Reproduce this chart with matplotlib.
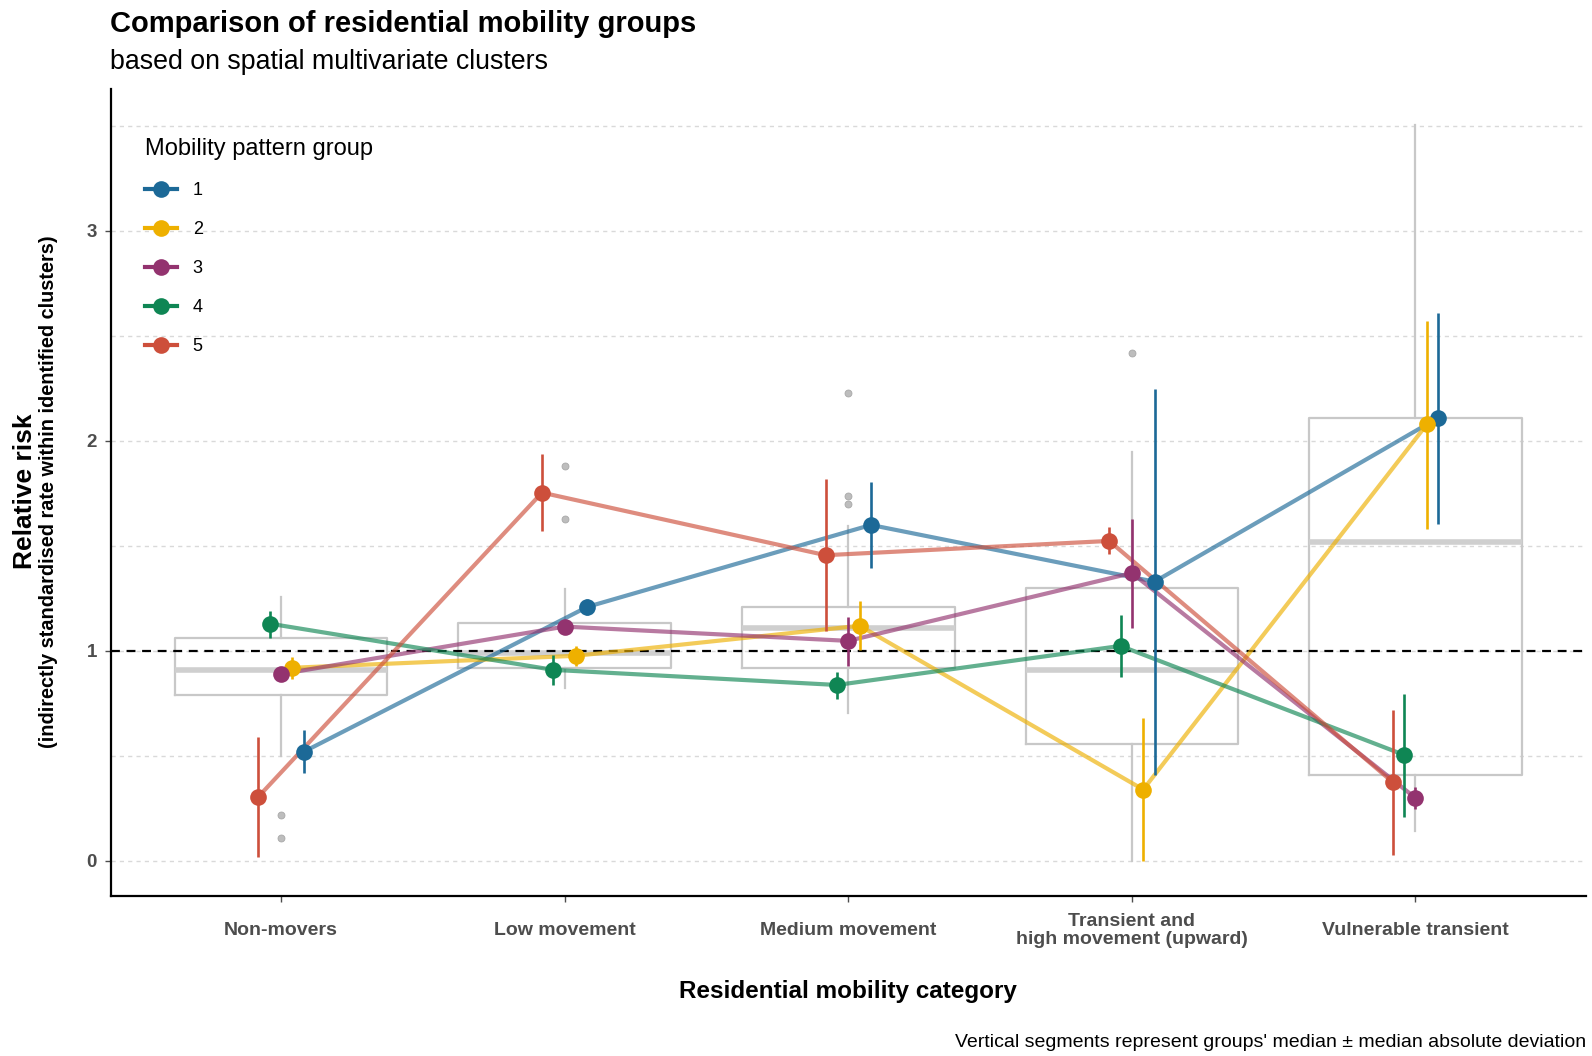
import matplotlib
matplotlib.use("Agg")
import matplotlib.pyplot as plt
from matplotlib.lines import Line2D
import numpy as np

plt.rcParams['font.family'] = ['Liberation Sans', 'DejaVu Sans']

categories = ["Non-movers", "Low movement", "Medium movement",
              "Transient and\nhigh movement (upward)", "Vulnerable transient"]
groups = ["1", "2", "3", "4", "5"]
colors = ["#1c6997", "#eeb000", "#93336f", "#0f8654", "#cd4f3b"]

# median per group and category
median = {
    "1": [0.52, 1.21, 1.60, 1.33, 2.11],
    "2": [0.92, 0.977, 1.12, 0.34, 2.079],
    "3": [0.89, 1.116, 1.048, 1.371, 0.30],
    "4": [1.13, 0.91, 0.838, 1.024, 0.505],
    "5": [0.306, 1.754, 1.456, 1.524, 0.375],
}
# median - MAD
lower = {
    "1": [0.418, 1.171, 1.393, 0.408, 1.606],
    "2": [0.867, 0.929, 1.005, 0.0, 1.583],
    "3": [0.87, 1.10, 0.93, 1.11, 0.249],
    "4": [1.063, 0.838, 0.772, 0.876, 0.21],
    "5": [0.018, 1.571, 1.097, 1.46, 0.027],
}
# median + MAD
upper = {
    "1": [0.624, 1.246, 1.803, 2.247, 2.611],
    "2": [0.97, 1.025, 1.236, 0.682, 2.573],
    "3": [0.91, 1.13, 1.162, 1.629, 0.352],
    "4": [1.19, 0.981, 0.899, 1.169, 0.797],
    "5": [0.59, 1.94, 1.818, 1.589, 0.717],
}

# boxplot summary per category
box_q1 = [0.79, 0.921, 0.921, 0.558, 0.41]
box_med = [0.91, 0.989, 1.111, 0.908, 1.519]
box_q3 = [1.06, 1.131, 1.209, 1.30, 2.108]
box_lo = [0.50, 0.822, 0.704, 0.0, 0.143]
box_hi = [1.257, 1.296, 1.596, 1.948, 3.506]
box_out = [[0.22, 0.11], [1.88, 1.629], [2.228, 1.739, 1.699], [2.42], []]

fig = plt.figure(figsize=(15.92, 10.56), dpi=100)
ax = fig.add_axes([0.0697, 0.1515, 0.9263, 0.7642])

xpos = np.arange(1, len(categories) + 1)

stats = []
for i in range(len(categories)):
    stats.append(dict(med=box_med[i], q1=box_q1[i], q3=box_q3[i],
                      whislo=box_lo[i], whishi=box_hi[i], fliers=box_out[i]))
ax.bxp(stats, positions=xpos, widths=0.75, showcaps=False, patch_artist=False,
       boxprops=dict(color="#c8c8c8", lw=1.6),
       whiskerprops=dict(color="#c8c8c8", lw=1.6),
       medianprops=dict(color="#cfcfcf", lw=4),
       flierprops=dict(marker="o", markersize=5, markerfacecolor="#bdbdbd",
                       markeredgecolor="#a8a8a8", markeredgewidth=0.6),
       zorder=1)

ax.axhline(1, color="black", lw=1.6, ls=(0, (4, 3)), zorder=2)

for k, g in enumerate(groups):
    off = (2 - k) * 0.04
    xs = xpos + off
    ax.plot(xs, median[g], color=colors[k], lw=3, alpha=0.65, zorder=3,
            solid_capstyle="butt")
for k, g in enumerate(groups):
    off = (2 - k) * 0.04
    xs = xpos + off
    ax.vlines(xs, lower[g], upper[g], color=colors[k], lw=1.9, zorder=4)
    ax.plot(xs, median[g], "o", color=colors[k], markersize=12, zorder=5,
            markeredgewidth=0)

ax.set_xlim(0.4, 5.6)
ax.set_ylim(-0.167, 3.676)
ax.set_xticks(xpos)
ax.set_xticklabels(categories, fontweight="bold", color="#4d4d4d", fontsize=14,
                   linespacing=1.05, va="center")
ax.set_yticks([0, 1, 2, 3])
ax.set_yticklabels(["0", "1", "2", "3"], fontweight="bold", color="#4d4d4d",
                   fontsize=13.5)
ax.set_yticks([0.5, 1.5, 2.5, 3.5], minor=True)
ax.tick_params(axis="both", which="major", length=4, color="#4d4d4d", width=1, pad=6)
ax.tick_params(axis="y", which="minor", length=0)
ax.tick_params(axis="x", pad=21)
ax.grid(axis="y", which="both", color="#d9d9d9", lw=1, ls=(0, (3, 3)), zorder=0)
ax.set_axisbelow(True)
for s in ["top", "right"]:
    ax.spines[s].set_visible(False)
for s in ["left", "bottom"]:
    ax.spines[s].set_linewidth(1.6)
    ax.spines[s].set_color("black")

ax.set_xlabel("Residential mobility category", fontsize=17.5, fontweight="bold",
              va="center")
ax.xaxis.set_label_coords(0.5, -0.118)

fig.text(0.0155, 0.5345, "Relative risk", rotation=90, fontsize=19,
         fontweight="bold", ha="center", va="center")
fig.text(0.0305, 0.5345, "(indirectly standardised rate within identified clusters)",
         rotation=90, fontsize=14.3, fontweight="bold", ha="center", va="center")

fig.text(0.069, 0.977, "Comparison of residential mobility groups", fontsize=21.0,
         fontweight="bold", ha="left", va="center")
fig.text(0.069, 0.941, "based on spatial multivariate clusters", fontsize=19.3,
         ha="left", va="center")
fig.text(0.9962, 0.0125, "Vertical segments represent groups' median \u00b1 median absolute deviation",
         fontsize=14, ha="right", va="center")

handles = [Line2D([0], [0], color=c, lw=3, marker="o", markersize=12,
                  markeredgewidth=0) for c in colors]
leg = ax.legend(handles, groups, title="Mobility pattern group", loc="upper left",
                bbox_to_anchor=(0.012, 0.959), frameon=False, fontsize=13,
                title_fontsize=17, handlelength=1.8, handletextpad=0.85,
                labelspacing=1.22, alignment="left", borderaxespad=0.5)

fig.savefig("out.png", dpi=100)
